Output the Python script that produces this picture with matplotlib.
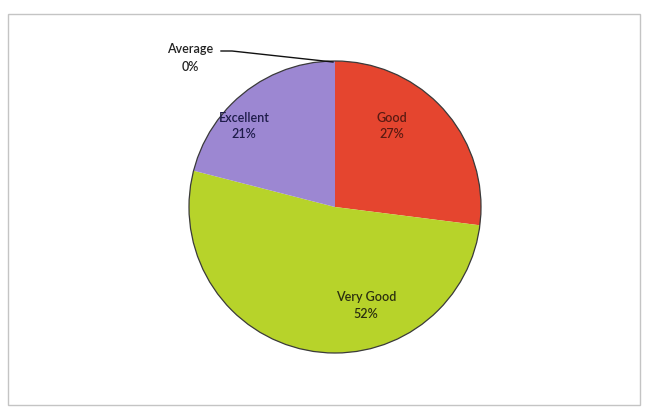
import matplotlib
matplotlib.use("Agg")
import matplotlib.pyplot as plt
from matplotlib.patches import Rectangle

# Ratings share (percent), clockwise from 12 o'clock
categories = ["Good", "Very Good", "Excellent", "Average"]
shares = [27, 52, 21, 0]
colors = ["#E5452F", "#B7D32A", "#9C87D2", "#888888"]
text_colors = ["#5A1A12", "#2B2F10", "#1E1C4A"]

W, H = 646, 410
fig = plt.figure(figsize=(W / 100, H / 100), dpi=100)
ax = fig.add_axes([0, 0, 1, 1])

# chart frame
ax.add_patch(Rectangle((8, 15), 632, 391, fill=False, ec="#C4C4C4", lw=1))

cx, cy, r = 335, 208, 146
# y axis is flipped below, so counterclock=True ends up clockwise on screen
wedges, _ = ax.pie(shares, colors=colors, startangle=-90, counterclock=True,
                   center=(cx, cy), radius=r, frame=True,
                   wedgeprops=dict(edgecolor="none"))
ax.set_xlim(0, W)
ax.set_ylim(H, 0)
ax.set_aspect("equal")
ax.axis("off")

# subtle outline like the original
ax.add_patch(plt.Circle((cx, cy), r, fill=False, ec="#3A3A3A", lw=0.9))

# in-slice labels (text placement only)
label_pos = [(392, 126), (366, 306), (244, 126)]
for name, val, (tx, ty), tc in zip(categories[:3], shares[:3], label_pos, text_colors):
    ax.text(tx, ty, f"{name}\n{val}%", ha="center", va="center",
            fontsize=9, family="Lato", weight="semibold", color=tc,
            linespacing=1.5)

# zero slice with leader line
ax.text(190, 58, f"{categories[3]}\n{shares[3]}%", ha="center", va="center",
        fontsize=9, family="Lato", weight="semibold", color="#222222",
        linespacing=1.6)
ax.plot([221, 232, cx - 2], [52, 52, cy - r + 1], color="#111111", lw=1)

fig.savefig("out.png", dpi=100, facecolor="white")
